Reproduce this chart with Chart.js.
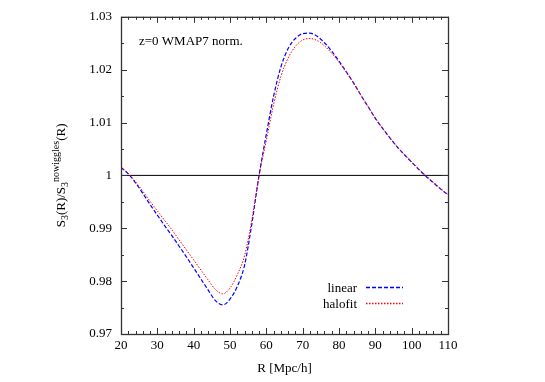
<!DOCTYPE html>
<html>
<head>
<meta charset="utf-8">
<script src="https://cdn.jsdelivr.net/npm/chart.js@4"></script>
<style>
  html, body { margin:0; padding:0; background:#fff; }
</style>
</head>
<body>
<canvas id="s3Chart" width="545" height="382"></canvas>
<script>
// S3 ratio vs smoothing radius, z=0 WMAP7 norm.

// --- data ---
const radius = [20,22,24,26,28,30,32,34,36,38,40,42,44,46,48,50,52,54,56,58,60,62,64,66,68,70,72,74,76,78,80,82,84,86,88,90,92,94,96,98,100,102,104,106,108,110];
const linear = [1.0015,1.0003,0.9986,0.9966,0.9945,0.9925,0.9905,0.9886,0.9866,0.9846,0.9825,0.9804,0.9783,0.9763,0.9755,0.9766,0.9790,0.9830,0.9908,1.0000,1.0078,1.0150,1.0205,1.0240,1.0259,1.0268,1.0269,1.0263,1.0251,1.0235,1.0216,1.0196,1.0175,1.0152,1.0130,1.0108,1.0089,1.0071,1.0054,1.0039,1.0025,1.0011,0.9998,0.9986,0.9974,0.9963];
const halofit = [1.0015,1.0004,0.9988,0.9970,0.9951,0.9933,0.9915,0.9897,0.9878,0.9859,0.9840,0.9821,0.9802,0.9784,0.9776,0.9787,0.9812,0.9848,0.9915,1.0000,1.0066,1.0134,1.0187,1.0222,1.0244,1.0256,1.0259,1.0255,1.0245,1.0231,1.0214,1.0195,1.0175,1.0152,1.0130,1.0108,1.0089,1.0071,1.0054,1.0040,1.0026,1.0012,0.9999,0.9987,0.9975,0.9964];
const unity = 1;

const xTickValues = [20,30,40,50,60,70,80,90,100,110];
const xTickLabels = ['20','30','40','50','60','70','80','90','100','110'];
const yTickValues = [0.97,0.98,0.99,1,1.01,1.02,1.03];
const yTickLabels = ['0.97','0.98','0.99','1','1.01','1.02','1.03'];

const serif = 'Liberation Serif';
const blue = '#0000ff', red = '#ff0000';
const toXY = ys => radius.map((r, i) => ({x: r, y: ys[i]}));

// --- frame, inward ticks, legend, labels ---
const decor = {
  id: 'decor',
  afterDraw(chart) {
    const {ctx, chartArea: a, scales: {x, y}} = chart;
    ctx.save();

    ctx.strokeStyle = '#333';
    ctx.lineWidth = 1;
    ctx.beginPath();
    for (let v = 20; v <= 110; v += 2) {
      const px = Math.round(x.getPixelForValue(v)) + 0.5;
      const len = v % 10 === 0 ? 6 : 3;
      ctx.moveTo(px, a.bottom); ctx.lineTo(px, a.bottom - len);
      ctx.moveTo(px, a.top); ctx.lineTo(px, a.top + len);
    }
    for (let i = 0; i <= 12; i++) {
      const py = Math.round(y.getPixelForValue(0.97 + i * 0.005)) + 0.5;
      const len = i % 2 === 0 ? 6 : 3;
      ctx.moveTo(a.left, py); ctx.lineTo(a.left + len, py);
      ctx.moveTo(a.right, py); ctx.lineTo(a.right - len, py);
    }
    ctx.stroke();
    ctx.lineWidth = 1.3;
    ctx.strokeRect(a.left + 0.5, a.top + 0.5, a.right - a.left, a.bottom - a.top);

    // annotation
    ctx.fillStyle = '#000';
    ctx.font = '13px "' + serif + '"';
    ctx.textBaseline = 'alphabetic';
    ctx.textAlign = 'left';
    ctx.fillText('z=0 WMAP7 norm.', a.left + 18, a.top + 28);

    // legend: text right aligned, sample to the right
    const keys = [['linear', blue, 1.4, [4, 2]], ['halofit', red, 1.4, [1.5, 1.5]]];
    keys.forEach((k, i) => {
      const yy = 292 + i * 16;
      ctx.textAlign = 'right';
      ctx.fillStyle = '#000';
      ctx.fillText(k[0], 357, yy);
      ctx.strokeStyle = k[1];
      ctx.lineWidth = k[2];
      ctx.setLineDash(k[3]);
      ctx.beginPath();
      ctx.moveTo(366, yy - 4.5);
      ctx.lineTo(403, yy - 4.5);
      ctx.stroke();
      ctx.setLineDash([]);
    });

    // y axis title with sub/superscripts
    const parts = [['S', 0, 13], ['3', 3, 10], ['(R)/S', 0, 13], ['3', 3, 10], ['nowiggles', -6, 10], ['(R)', 0, 13]];
    let total = 0;
    parts.forEach(p => { ctx.font = p[2] + 'px "' + serif + '"'; total += ctx.measureText(p[0]).width; });
    ctx.translate(65, (a.top + a.bottom) / 2);
    ctx.rotate(-Math.PI / 2);
    ctx.textAlign = 'left';
    ctx.fillStyle = '#000';
    let cx = -total / 2;
    parts.forEach(p => {
      ctx.font = p[2] + 'px "' + serif + '"';
      ctx.fillText(p[0], cx, p[1]);
      cx += ctx.measureText(p[0]).width;
    });
    ctx.restore();
  }
};

new Chart(document.getElementById('s3Chart'), {
  type: 'line',
  data: {
    datasets: [
      {label: 'linear', data: toXY(linear), borderColor: blue, borderWidth: 1.2, borderDash: [4, 2],
       pointRadius: 0, cubicInterpolationMode: 'monotone', fill: false, order: 1},
      {label: 'halofit', data: toXY(halofit), borderColor: red, borderWidth: 1, borderDash: [1.5, 1.5],
       pointRadius: 0, cubicInterpolationMode: 'monotone', fill: false, order: 0},
      {label: 'unity', data: [{x: radius[0], y: unity}, {x: radius[radius.length - 1], y: unity}],
       borderColor: '#000', borderWidth: 1, pointRadius: 0, fill: false, order: 2}
    ]
  },
  options: {
    responsive: false,
    animation: false,
    devicePixelRatio: 1,
    layout: {padding: {left: 0, top: 7, right: 97, bottom: 0}},
    plugins: {legend: {display: false}, tooltip: {enabled: false}},
    scales: {
      x: {
        type: 'linear', min: 20, max: 110,
        grid: {display: false, drawTicks: false}, border: {display: false},
        afterBuildTicks: s => { s.ticks = xTickValues.map(v => ({value: v})); },
        afterFit: s => { s.height = 48; },
        ticks: {padding: 4, color: '#000', font: {family: serif, size: 13}, maxRotation: 0, autoSkip: false,
                callback: (v, i) => xTickLabels[i]},
        title: {display: true, text: 'R [Mpc/h]', color: '#000', font: {family: serif, size: 13}, padding: {top: 0, bottom: 6}}
      },
      y: {
        type: 'linear', min: 0.97, max: 1.03,
        grid: {display: false, drawTicks: false}, border: {display: false},
        afterBuildTicks: s => { s.ticks = yTickValues.map(v => ({value: v})); },
        afterFit: s => { s.width = 121; },
        ticks: {padding: 9, color: '#000', font: {family: serif, size: 13}, autoSkip: false,
                callback: (v, i) => yTickLabels[i]}
      }
    }
  },
  plugins: [decor]
});
</script>
</body>
</html>
